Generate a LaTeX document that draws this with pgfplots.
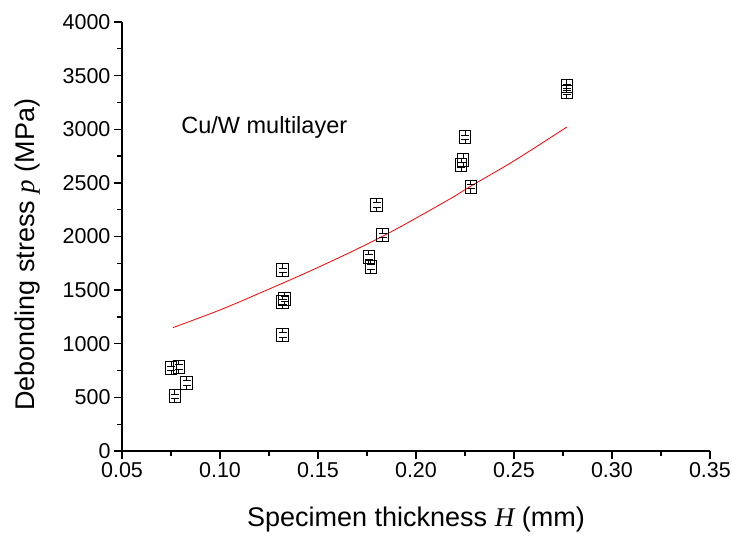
\documentclass[border=0pt]{standalone}
\usepackage{fontspec}
\setmainfont{Liberation Sans}
\newfontfamily\serifit{Liberation Serif}[ItalicFont={Liberation Serif Italic}]
\usepackage{pgfplots}
\pgfplotsset{compat=1.18}

% box-chart style marker
\pgfdeclareplotmark{boxsym}{%
  \pgfpathrectangle{\pgfpoint{-0.9\pgfplotmarksize}{-\pgfplotmarksize}}{\pgfpoint{1.8\pgfplotmarksize}{2\pgfplotmarksize}}%
  \pgfpathmoveto{\pgfpoint{-0.6\pgfplotmarksize}{0.35\pgfplotmarksize}}%
  \pgfpathlineto{\pgfpoint{0.6\pgfplotmarksize}{0.35\pgfplotmarksize}}%
  \pgfpathmoveto{\pgfpoint{-0.6\pgfplotmarksize}{-0.35\pgfplotmarksize}}%
  \pgfpathlineto{\pgfpoint{0.6\pgfplotmarksize}{-0.35\pgfplotmarksize}}%
  \pgfpathmoveto{\pgfpoint{0pt}{\pgfplotmarksize}}%
  \pgfpathlineto{\pgfpoint{0pt}{0.35\pgfplotmarksize}}%
  \pgfpathmoveto{\pgfpoint{0pt}{-\pgfplotmarksize}}%
  \pgfpathlineto{\pgfpoint{0pt}{-0.35\pgfplotmarksize}}%
  \pgfusepathqstroke}

\begin{document}
\begin{tikzpicture}
\begin{axis}[
    scale only axis,
    width=588pt, height=429pt,
    xmin=0.05, xmax=0.35,
    ymin=0, ymax=4000,
    xtick={0.05,0.10,...,0.35},
    ytick={0,500,...,4000},
    minor x tick num=1,
    minor y tick num=1,
    axis x line*=bottom,
    axis y line*=left,
    axis line style={line width=1.4pt},
    every tick/.style={line width=1.3pt, black},
    tick align=outside,
    major tick length=8pt,
    minor tick length=5pt,
    xticklabel style={/pgf/number format/.cd, fixed, fixed zerofill, precision=2},
    yticklabel style={/pgf/number format/.cd, fixed, 1000 sep={}},
    /pgf/number format/assume math mode=true,
    ticklabel style={font=\fontsize{21.5}{25}\selectfont},
    xlabel={Specimen thickness {\serifit\itshape H} (mm)},
    ylabel={Debonding stress {\serifit\itshape p} (MPa)},
    xlabel style={font=\fontsize{27}{30}\selectfont, at={(axis description cs:0.5,-0.177)}, anchor=base},
    ylabel style={font=\fontsize{27}{30}\selectfont, at={(axis description cs:-0.148,0.457)}, anchor=base},
    clip=false,
]
% fitted curve
\addplot[red, line width=0.8pt, smooth] coordinates {
    (0.076,1150) (0.100,1315) (0.1204,1473) (0.145,1670) (0.1689,1874)
    (0.190,2070) (0.2173,2350) (0.228,2470) (0.250,2705) (0.277,3021)
};
% measured points
\addplot[only marks, mark=boxsym, mark size=6.5pt, mark options={black, line width=0.9pt, fill=none}] coordinates {
    (0.075,770) (0.079,785) (0.083,635) (0.077,510)
    (0.132,1685) (0.133,1415) (0.132,1390) (0.132,1080)
    (0.180,2295) (0.183,2010) (0.176,1810) (0.177,1715)
    (0.225,2925) (0.224,2710) (0.223,2665) (0.228,2465)
    (0.277,3400) (0.277,3345)
};
\node[anchor=west, font=\fontsize{23.5}{27}\selectfont] at (axis cs:0.0785,3021) {Cu/W multilayer};
% page extent
\path (axis description cs:-0.2075,-0.2121) rectangle (axis description cs:1.046,1.0513);
\end{axis}
\end{tikzpicture}
\end{document}
